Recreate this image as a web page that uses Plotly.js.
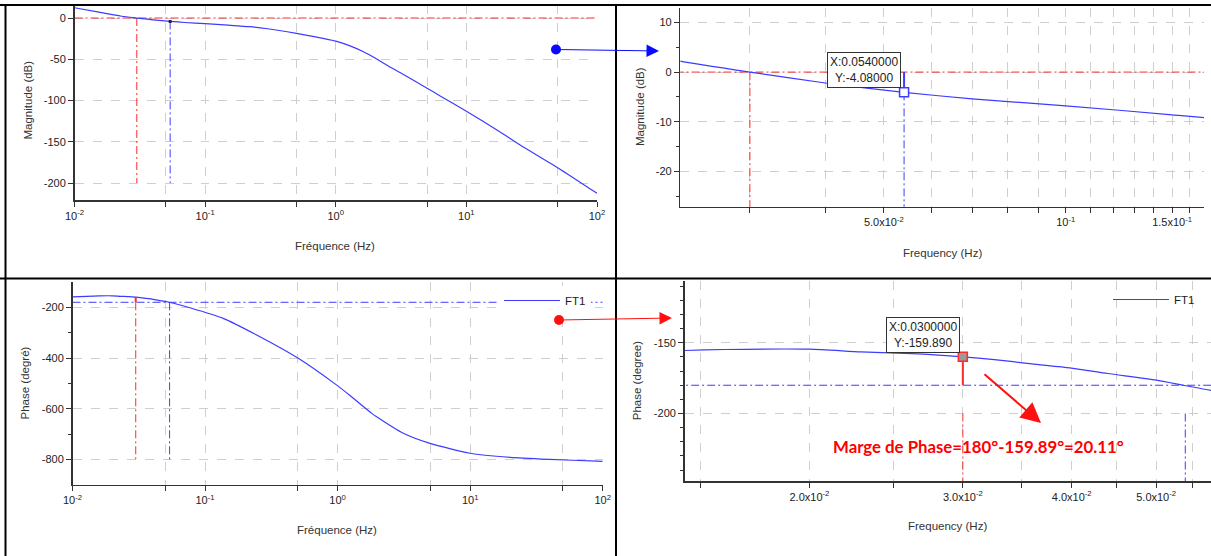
<!DOCTYPE html>
<html><head><meta charset="utf-8">
<script src="https://cdn.plot.ly/plotly-3.0.1.min.js"></script>
<style>html,body{margin:0;padding:0;background:#fff}#chart{width:1211px;height:556px}</style>
</head><body><div id="chart"></div><script>
// ---- data ----
const freqMag = [0.01,0.015,0.02,0.023,0.03,0.04,0.054,0.07,0.1,0.15,0.22,0.3,0.5,0.7,1.0,1.3,1.63,2.0,2.45,3.3,5.0,6.3,10,18,25.8,50.7,100];
const magDb   = [12.5,7.5,3.8,2.2,0,-2.2,-4.08,-5.4,-6.8,-8.6,-10.5,-13,-18.6,-22.8,-28,-34,-40.8,-48.5,-57,-68.5,-85,-94.5,-113,-137.8,-154,-182,-212.5];
const freqPhase = [0.01,0.0144,0.016,0.02,0.0229,0.0267,0.03,0.0326,0.036,0.0398,0.044,0.05,0.0537,0.0578,0.0769,0.137,0.245,0.505,0.985,1.24,1.81,1.97,3.13,4.98,10,20,40,90,100];
const phaseDeg  = [-159,-155.4,-154.7,-154.5,-156.4,-157.8,-159.89,-161.8,-164.9,-167.7,-171.7,-176.4,-180,-183.7,-201.6,-243.4,-309,-401,-507,-548,-618.5,-632,-697,-737,-776,-792,-800,-807,-808];
const gainCrossFreq = 0.03;
const phaseCrossFreq = 0.054;
const magAtPhaseCross = -4.08;
const phaseAtGainCross = -159.89;
const magRef = 0;
const phaseRef = -180;
const seriesName = 'FT1';

const decadeTickVals = [0.01,0.05,0.1,0.5,1,5,10,50,100];
const decadeTickText = ['10<sup>-2</sup>','','10<sup>-1</sup>','','10<sup>0</sup>','','10<sup>1</sup>','','10<sup>2</sup>'];
const magTickVals = [0,-50,-100,-150,-200];
const magTickText = ['0','-50','-100','-150','-200'];
const zoomMagTickVals = [10,0,-10,-20];
const zoomMagTickText = ['10','0','-10','-20'];
const zoomMagMinor = [5,-5,-15,-25];
const zoomFreqTickVals = [0.03,0.04,0.05,0.06,0.07,0.08,0.09,0.1,0.11,0.12,0.13,0.14,0.15,0.16];
const zoomFreqTickText = ['','','5.0x10<sup>-2</sup>','','','','','10<sup>-1</sup>','','','','','1.5x10<sup>-1</sup>',''];
const phaseTickVals = [-200,-400,-600,-800];
const phaseTickText = ['-200','-400','-600','-800'];
const phaseMinor = [-300,-500,-700];
const zoomPhaseTickVals = [-150,-200];
const zoomPhaseTickText = ['-150','-200'];
const zoomPhaseMinor = [-110,-120,-130,-140,-160,-170,-180,-190,-210,-220,-230,-240];
const zoomPhaseFreqTickVals = [0.015,0.02,0.025,0.03,0.035,0.04,0.045,0.05,0.055];
const zoomPhaseFreqTickText = ['','2.0x10<sup>-2</sup>','','3.0x10<sup>-2</sup>','','4.0x10<sup>-2</sup>','','5.0x10<sup>-2</sup>',''];

// ---- styles ----
const W = 1211, H = 556;
const px = v => v / W, py = v => 1 - v / H;
const BLUE = '#3c3cff', RED = '#ff2a2a', DD = '8px,3px,2px,3px';
const FONT = 'Liberation Sans, Arial, sans-serif';

function ln(xa, ya, xs, ys, color, dash, width) {
  return {x: xs, y: ys, xaxis: xa, yaxis: ya, mode: 'lines', showlegend: false, hoverinfo: 'skip',
          line: {color: color, dash: dash || 'solid', width: width || 1}};
}
function curve(xa, ya, xs, ys) {
  const t = ln(xa, ya, xs, ys, BLUE, 'solid', 1.2);
  t.line.shape = 'spline'; t.line.smoothing = 0.6;
  return t;
}
const traces = [
  // panel 1
  ln('x','y',[0.01,100],[magRef,magRef],RED,DD),
  ln('x','y',[gainCrossFreq,gainCrossFreq],[magRef,-200],RED,DD),
  ln('x','y',[phaseCrossFreq,phaseCrossFreq],[magAtPhaseCross,-200],BLUE,DD),
  curve('x','y',freqMag,magDb),
  {x:[phaseCrossFreq],y:[magAtPhaseCross],xaxis:'x',yaxis:'y',mode:'markers',showlegend:false,
   marker:{symbol:'square',size:3,color:'#202060'}},
  // panel 2
  ln('x2','y2',[0.02,0.2],[magRef,magRef],RED,DD),
  ln('x2','y2',[gainCrossFreq,gainCrossFreq],[magRef,-30],RED,DD),
  ln('x2','y2',[phaseCrossFreq,phaseCrossFreq],[magAtPhaseCross,-30],BLUE,DD),
  ln('x2','y2',[phaseCrossFreq,phaseCrossFreq],[magAtPhaseCross,magRef],BLUE,'solid',2),
  curve('x2','y2',freqMag,magDb),
  {x:[phaseCrossFreq],y:[magAtPhaseCross],xaxis:'x2',yaxis:'y2',mode:'markers',showlegend:false,
   marker:{symbol:'square',size:9,color:'#ffffff',line:{color:BLUE,width:1.5}}},
  // panel 3
  ln('x3','y3',[0.01,100],[phaseRef,phaseRef],BLUE,DD),
  ln('x3','y3',[gainCrossFreq,gainCrossFreq],[phaseRef,-800],RED,DD),
  ln('x3','y3',[gainCrossFreq,gainCrossFreq],[phaseAtGainCross,phaseRef],RED,'solid',2),
  ln('x3','y3',[phaseCrossFreq,phaseCrossFreq],[phaseRef,-800],BLUE,DD),
  Object.assign(curve('x3','y3',freqPhase,phaseDeg),{name:seriesName,showlegend:true,legend:'legend'}),
  // panel 4
  ln('x4','y4',[0.01,0.07],[phaseRef,phaseRef],BLUE,DD),
  ln('x4','y4',[gainCrossFreq,gainCrossFreq],[phaseAtGainCross,phaseRef],RED,'solid',2),
  ln('x4','y4',[gainCrossFreq,gainCrossFreq],[-200,-260],RED,DD),
  ln('x4','y4',[phaseCrossFreq,phaseCrossFreq],[-200,-260],BLUE,DD),
  Object.assign(curve('x4','y4',freqPhase,phaseDeg),{name:seriesName,showlegend:true,legend:'legend2'}),
  {x:[gainCrossFreq],y:[phaseAtGainCross],xaxis:'x4',yaxis:'y4',mode:'markers',showlegend:false,
   marker:{symbol:'square',size:9,color:'#9a9a9a',line:{color:RED,width:1.5}}}
];

const baseAxis = {showline:true, linecolor:'#333', linewidth:1.5, ticks:'outside', ticklen:5, tickcolor:'#333',
  showgrid:true, gridcolor:'#cfcfcf', griddash:'dash', gridwidth:1, zeroline:false, automargin:false,
  fixedrange:true, tickmode:'array', tickfont:{family:FONT,size:11,color:'#222'}};
function ax(extra){ return Object.assign({}, baseAxis, extra); }

function txt(x, y, text, extra) {
  return Object.assign({xref:'paper', yref:'paper', x:px(x), y:py(y), xanchor:'center', yanchor:'middle',
    text:text, showarrow:false, font:{family:FONT,size:11.5,color:'#333'}}, extra || {});
}
function arrow(hx, hy, tx, ty, color, width, size) {
  return {xref:'paper', yref:'paper', x:px(hx), y:py(hy), ax:tx-hx, ay:ty-hy, text:'', showarrow:true,
    arrowhead:2, arrowsize:size, arrowwidth:width, arrowcolor:color};
}

const layout = {
  width: W, height: H, margin:{l:0,r:0,t:0,b:0}, paper_bgcolor:'#fff', plot_bgcolor:'#fff',
  showlegend:true,
  xaxis: ax({type:'log', domain:[px(74.5),px(597)], range:[-2,2], anchor:'y', tickvals:decadeTickVals, ticktext:decadeTickText}),
  yaxis: ax({domain:[py(200),py(5)], range:[-220.6,15.8], anchor:'x', tickvals:magTickVals, ticktext:magTickText}),
  xaxis2: ax({type:'log', domain:[px(680.4),px(1204)], range:[Math.log10(0.02302),Math.log10(0.1694)], anchor:'y2', tickvals:zoomFreqTickVals, ticktext:zoomFreqTickText}),
  yaxis2: ax({domain:[py(206.7),py(8)], range:[-27.1,12.9], anchor:'x2', tickvals:zoomMagTickVals, ticktext:zoomMagTickText,
    minor:{tickmode:'array', tickvals:zoomMagMinor, ticklen:3, tickcolor:'#333', showgrid:false}}),
  xaxis3: ax({type:'log', domain:[px(72.5),px(602.7)], range:[-2,2], anchor:'y3', tickvals:decadeTickVals, ticktext:decadeTickText}),
  yaxis3: ax({domain:[py(484.7),py(282)], range:[-900,-100], anchor:'x3', tickvals:phaseTickVals, ticktext:phaseTickText,
    minor:{tickmode:'array', tickvals:phaseMinor, ticklen:3, tickcolor:'#333', showgrid:false}}),
  xaxis4: ax({type:'log', domain:[px(684.6),1], range:[Math.log10(0.01438),Math.log10(0.0578)], anchor:'y4', tickvals:zoomPhaseFreqTickVals, ticktext:zoomPhaseFreqTickText}),
  yaxis4: ax({domain:[py(481.3),py(280.7)], range:[-248,-106], anchor:'x4', tickvals:zoomPhaseTickVals, ticktext:zoomPhaseTickText,
    minor:{tickmode:'array', tickvals:zoomPhaseMinor, ticklen:3, tickcolor:'#333', showgrid:false}}),
  legend: {x:px(499), y:py(286), xanchor:'left', yanchor:'top', bgcolor:'#fff', borderwidth:0,
    font:{family:FONT,size:11.5,color:'#222'}, itemwidth:56, tracegroupgap:0},
  legend2: {x:px(1108), y:py(285), xanchor:'left', yanchor:'top', bgcolor:'rgba(255,255,255,0)', borderwidth:0,
    font:{family:FONT,size:11.5,color:'#222'}, itemwidth:56, tracegroupgap:0},
  shapes: [
    {type:'line',xref:'paper',yref:'paper',x0:0,x1:1,y0:py(5),y1:py(5),line:{color:'#000',width:2}},
    {type:'line',xref:'paper',yref:'paper',x0:0,x1:1,y0:py(278.5),y1:py(278.5),line:{color:'#000',width:2}},
    {type:'line',xref:'paper',yref:'paper',x0:px(5.5),x1:px(5.5),y0:py(4),y1:0,line:{color:'#000',width:2}},
    {type:'line',xref:'paper',yref:'paper',x0:px(616),x1:px(616),y0:py(4),y1:0,line:{color:'#000',width:2}},
    {type:'circle',xref:'paper',yref:'paper',xsizemode:'pixel',ysizemode:'pixel',xanchor:px(556),yanchor:py(49.5),
     x0:-5,x1:5,y0:-5,y1:5,fillcolor:'#0a0aff',line:{width:0}},
    {type:'circle',xref:'paper',yref:'paper',xsizemode:'pixel',ysizemode:'pixel',xanchor:px(559),yanchor:py(320),
     x0:-5,x1:5,y0:-5,y1:5,fillcolor:'#ff1010',line:{width:0}}
  ],
  annotations: [
    arrow(659,51,556,49.5,'#0a0aff',1,2.5),
    arrow(672,318,559,320,'#ff1010',1,2.5),
    arrow(1041,423,983,373,'#ff1010',2,2),
    txt(863.5,70,'X:0.0540000<br>Y:-4.08000',{font:{family:FONT,size:12,color:'#222'},bgcolor:'#fff',bordercolor:'#333',borderwidth:1,borderpad:2}),
    txt(922.8,334.5,'X:0.0300000<br>Y:-159.890',{font:{family:FONT,size:12,color:'#222'},bgcolor:'#fff',bordercolor:'#333',borderwidth:1,borderpad:2}),
    txt(978,446,'<b>Marge de Phase=180°-159.89°=20.11°</b>',{font:{family:'Lato, Carlito, sans-serif',size:16.8,color:'#ff0000'}}),
    txt(27.5,100,'Magnitude (dB)',{textangle:-90}),
    txt(335,246,'Fréquence (Hz)'),
    txt(640,107,'Magnitude (dB)',{textangle:-90}),
    txt(942.5,253,'Frequency (Hz)'),
    txt(24.5,383,'Phase (degré)',{textangle:-90}),
    txt(337,530,'Fréquence (Hz)'),
    txt(636.7,380.5,'Phase (degree)',{textangle:-90}),
    txt(947.7,526,'Frequency (Hz)')
  ]
};
Plotly.newPlot('chart', traces, layout, {staticPlot:true, displayModeBar:false});
</script></body></html>
